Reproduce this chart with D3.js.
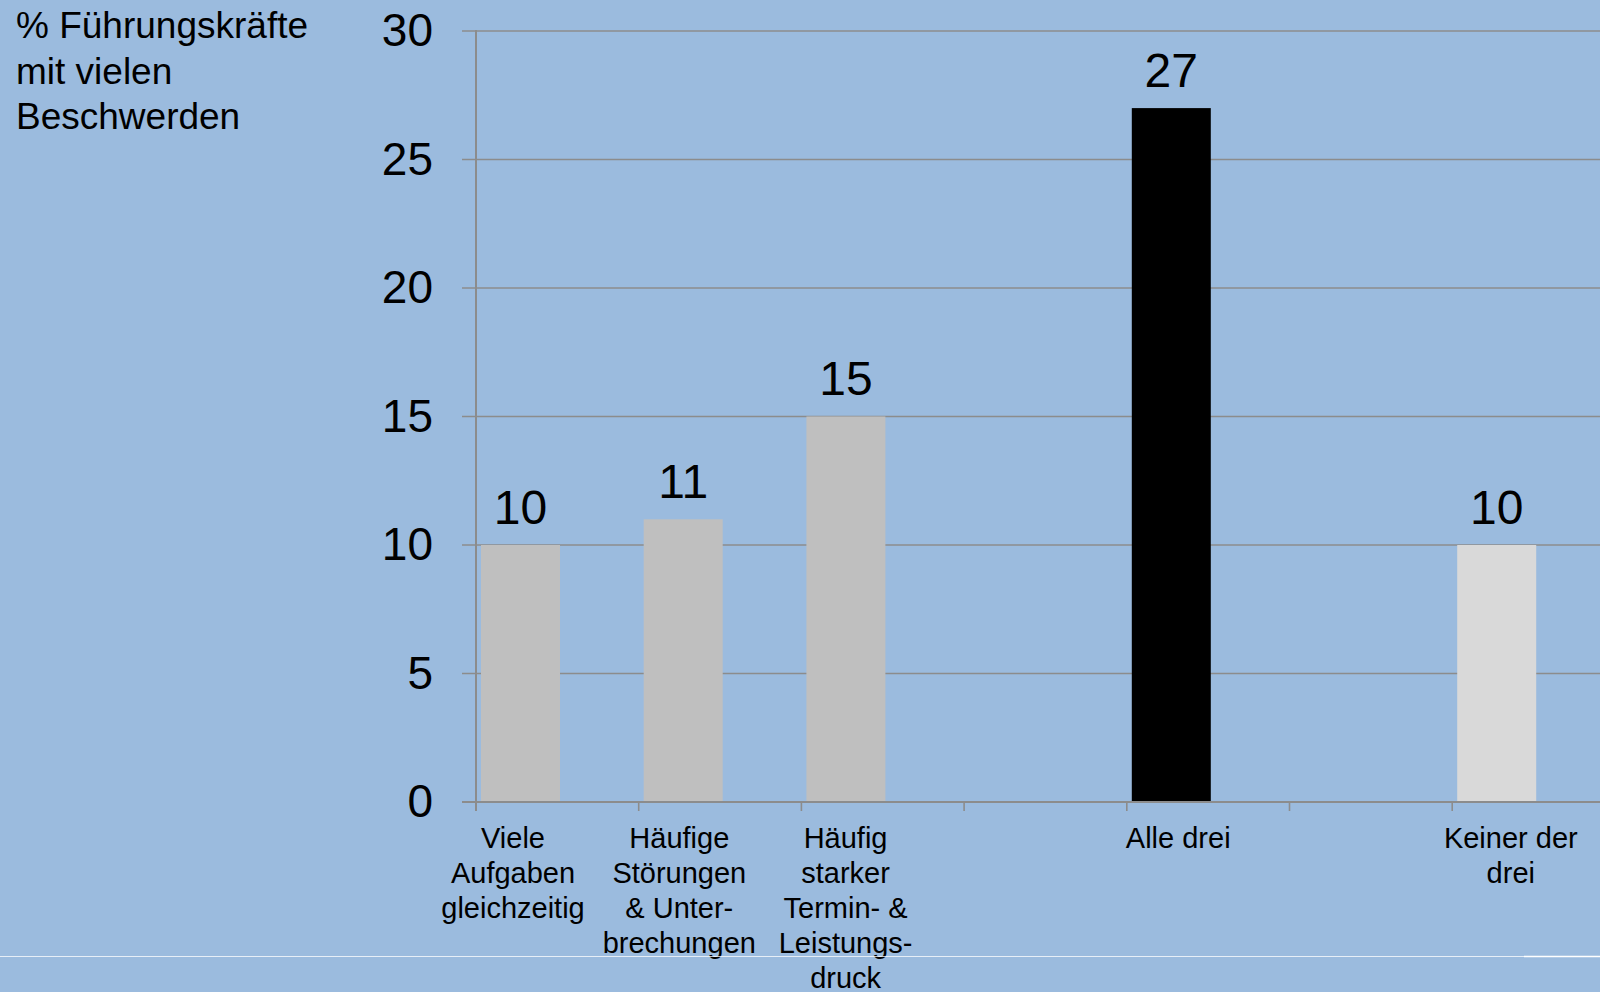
<!DOCTYPE html>
<html>
<head>
<meta charset="utf-8">
<script src="https://cdn.jsdelivr.net/npm/d3@7/dist/d3.min.js"></script>
<style>
  html, body { margin: 0; padding: 0; background: #9BBBDE; }
  svg { display: block; }
  text { font-family: "Liberation Sans", Arial, sans-serif; fill: #000; }
</style>
</head>
<body>
<svg id="chart" width="1600" height="992"></svg>
<script>
// ---- data ----
const categoryKeys = ["viele", "stoerungen", "termin", "gap1", "alle", "gap2", "keiner"];
const categoryLabels = [
  ["Viele", "Aufgaben", "gleichzeitig"],
  ["Häufige", "Störungen", "& Unter-", "brechungen"],
  ["Häufig", "starker", "Termin- &", "Leistungs-", "druck"],
  [],
  ["Alle drei"],
  [],
  ["Keiner der", "drei"]
];
const values = [10, 11, 15, null, 27, null, 10];
const barColors = ["#BFBFBF", "#BFBFBF", "#BFBFBF", null, "#000000", null, "#D9D9D9"];
const yTicks = [0, 5, 10, 15, 20, 25, 30];
const titleLines = ["% Führungskräfte", "mit vielen", "Beschwerden"];

// ---- layout ----
const W = 1600, H = 992;
const svg = d3.select("#chart");
svg.append("rect").attr("width", W).attr("height", H).attr("fill", "#9BBBDE");

const axisX = 476, y0 = 802, yTop = 31;
const step = 162.7;
const x = d3.scaleBand().domain(categoryKeys)
  .range([axisX, axisX + step * categoryKeys.length]).padding(0);
const xLabel = d3.scalePoint().domain(categoryKeys).range([513, 513 + 166.3 * 6]);
const y = d3.scaleLinear().domain([0, 30]).range([y0, yTop]);

const gridColor = "#8C8C8C";

// gridlines
svg.append("g").selectAll("line").data(yTicks.filter(d => d > 0)).join("line")
  .attr("x1", axisX - 14).attr("x2", W)
  .attr("y1", d => y(d)).attr("y2", d => y(d))
  .attr("stroke", gridColor).attr("stroke-width", 1.6);

// y tick labels
svg.append("g").selectAll("text").data(yTicks).join("text")
  .attr("x", 433).attr("y", d => y(d)).attr("dy", "0.33em")
  .attr("text-anchor", "end").attr("font-size", 46)
  .text(d => d);

// bars
const barData = categoryKeys.map((k, i) => ({ k, v: values[i], c: barColors[i], i }))
  .filter(d => d.v !== null);
const barOffset = 5, barW = 79;
svg.append("g").selectAll("rect").data(barData).join("rect")
  .attr("x", d => x(d.k) + barOffset)
  .attr("width", barW)
  .attr("y", d => y(d.v))
  .attr("height", d => y(0) - y(d.v))
  .attr("fill", d => d.c);

// value labels
svg.append("g").selectAll("text").data(barData).join("text")
  .attr("x", d => x(d.k) + barOffset + barW / 2)
  .attr("y", d => y(d.v) - 21.5)
  .attr("text-anchor", "middle").attr("font-size", 48)
  .text(d => d.v);

// y axis line
svg.append("line").attr("x1", axisX).attr("x2", axisX)
  .attr("y1", yTop - 1).attr("y2", y0 + 9)
  .attr("stroke", gridColor).attr("stroke-width", 2);
// x axis line
svg.append("line").attr("x1", axisX - 14).attr("x2", W)
  .attr("y1", y0).attr("y2", y0)
  .attr("stroke", gridColor).attr("stroke-width", 2);
// x ticks
svg.append("g").selectAll("line").data(categoryKeys.slice(1)).join("line")
  .attr("x1", d => x(d)).attr("x2", d => x(d))
  .attr("y1", y0).attr("y2", y0 + 9)
  .attr("stroke", gridColor).attr("stroke-width", 1.6);

// category labels
const catG = svg.append("g");
categoryKeys.forEach((k, i) => {
  const t = catG.append("text")
    .attr("x", xLabel(k)).attr("y", 847.5)
    .attr("text-anchor", "middle").attr("font-size", 29);
  categoryLabels[i].forEach((line, j) => {
    t.append("tspan").attr("x", xLabel(k)).attr("dy", j === 0 ? 0 : 35).text(line);
  });
});

// title
const tt = svg.append("text").attr("x", 16).attr("y", 38).attr("font-size", 37);
titleLines.forEach((line, j) => {
  tt.append("tspan").attr("x", 16).attr("dy", j === 0 ? 0 : 45.7).text(line);
});

// thin white line near bottom
svg.append("line").attr("x1", 0).attr("x2", 1524).attr("y1", 956.5).attr("y2", 956.5)
  .attr("stroke", "#FFFFFF").attr("stroke-opacity", 0.75).attr("stroke-width", 1);
svg.append("line").attr("x1", 1524).attr("x2", W).attr("y1", 956.5).attr("y2", 956.5)
  .attr("stroke", "#FFFFFF").attr("stroke-opacity", 1).attr("stroke-width", 1.5);
</script>
</body>
</html>
